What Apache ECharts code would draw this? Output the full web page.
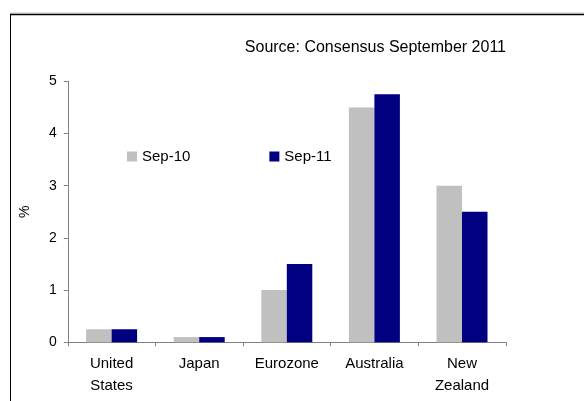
<!DOCTYPE html>
<html>
<head>
<meta charset="utf-8">
<script src="https://cdn.jsdelivr.net/npm/echarts@6/dist/echarts.min.js"></script>
<style>
html,body{margin:0;padding:0;background:#fff;}
#chart{width:584px;height:401px;}
</style>
</head>
<body>
<div id="chart"></div>
<script>
const categories = ['United\nStates', 'Japan', 'Eurozone', 'Australia', 'New\nZealand'];
const sep10 = [0.25, 0.1, 1.0, 4.5, 3.0];
const sep11 = [0.25, 0.1, 1.5, 4.75, 2.5];
const seriesNames = ['Sep-10', 'Sep-11'];
const yTicks = [0, 1, 2, 3, 4, 5];

const chart = echarts.init(document.getElementById('chart'), null, {renderer: 'canvas'});
const font = 'Arial, "Liberation Sans", sans-serif';
chart.setOption({
  animation: false,
  backgroundColor: '#ffffff',
  title: {
    text: 'Source: Consensus September 2011',
    right: 78, top: 40, padding: 0,
    textStyle: {fontFamily: font, fontSize: 16, fontWeight: 'normal', color: '#000'}
  },
  legend: {
    data: seriesNames,
    left: 127, top: 149, padding: 0,
    itemWidth: 10, itemHeight: 10, itemGap: 79,
    icon: 'rect',
    textStyle: {fontFamily: font, fontSize: 15, color: '#000', padding: [0,0,0,0]}
  },
  grid: {left: 67.8, right: 78.2, top: 81.3, bottom: 58.7, containLabel: false},
  xAxis: {
    type: 'category',
    data: categories,
    axisLine: {lineStyle: {color: '#808080', width: 1}},
    axisTick: {show: true, length: 4, inside: false, lineStyle: {color: '#808080'}},
    axisLabel: {fontFamily: font, fontSize: 15, color: '#000', margin: 11, lineHeight: 22, interval: 0}
  },
  yAxis: {
    type: 'value',
    min: yTicks[0], max: yTicks[yTicks.length - 1], interval: 1,
    name: '%', nameLocation: 'middle', nameGap: 36, nameRotate: 90,
    nameTextStyle: {fontFamily: font, fontSize: 14, color: '#000'},
    splitLine: {show: false},
    axisLine: {show: true, lineStyle: {color: '#808080', width: 1}},
    axisTick: {show: true, length: 4, lineStyle: {color: '#808080'}},
    axisLabel: {fontFamily: font, fontSize: 14, color: '#000', margin: 11}
  },
  series: [
    {name: seriesNames[0], type: 'bar', data: sep10, barWidth: 25.5, barGap: '0%',
     itemStyle: {color: '#C0C0C0'}},
    {name: seriesNames[1], type: 'bar', data: sep11, barWidth: 25.5, barGap: '0%',
     itemStyle: {color: '#000080'}}
  ],
  graphic: [
    {type: 'line', shape: {x1: 10, y1: 13, x2: 584, y2: 13}, style: {stroke: '#c8c8c8', lineWidth: 1}, silent: true},
    {type: 'line', shape: {x1: 10, y1: 14.5, x2: 584, y2: 14.5}, style: {stroke: '#000', lineWidth: 1.5}, silent: true},
    {type: 'line', shape: {x1: 10.5, y1: 14, x2: 10.5, y2: 401}, style: {stroke: '#000', lineWidth: 1}, silent: true}
  ]
});
</script>
</body>
</html>
